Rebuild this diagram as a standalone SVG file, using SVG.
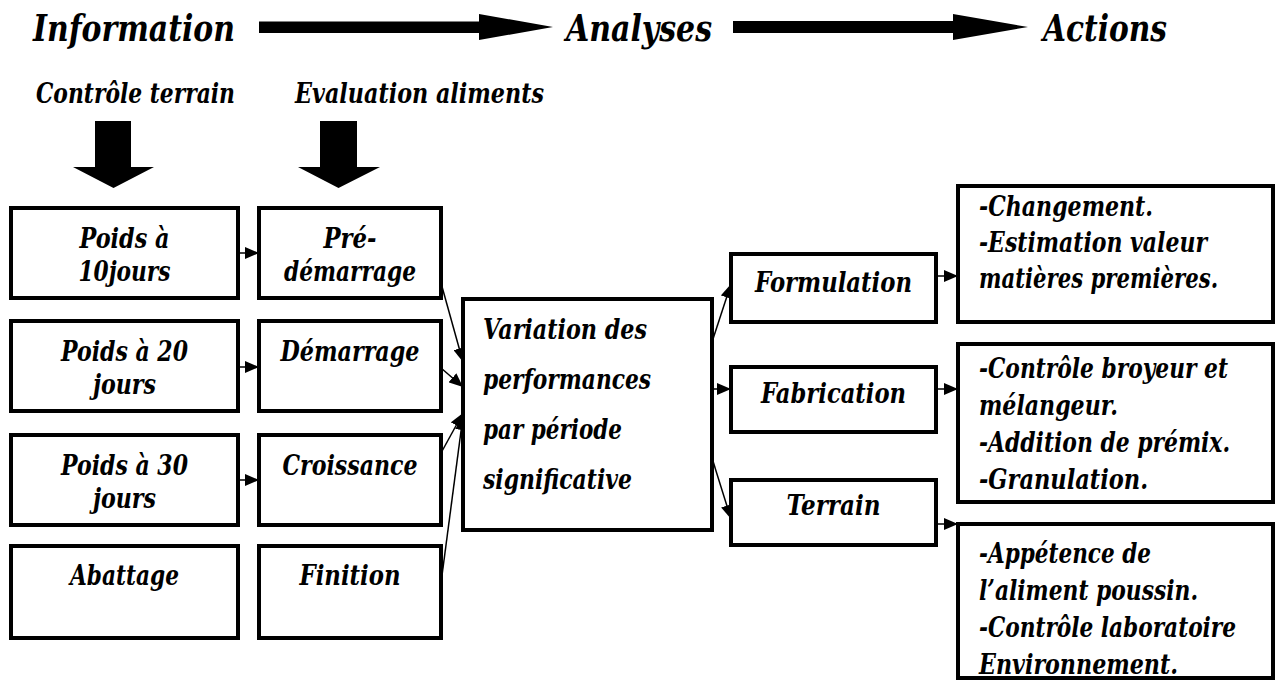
<svg xmlns="http://www.w3.org/2000/svg" width="1277" height="681" viewBox="0 0 1277 681">
<style>
text{font-family:"DejaVu Serif","Liberation Serif",serif;font-weight:bold;font-style:italic;fill:#000}
.t{font-size:37px}
.s{font-size:28px}
.b{font-size:28px}
.c{text-anchor:middle}
.box{fill:#fff;stroke:#000;stroke-width:4}
.con{stroke:#000;stroke-width:1.5;fill:none;marker-end:url(#ah)}
.big{fill:#000}
</style>
<defs>
<marker id="ah" viewBox="0 0 14 12" refX="14" refY="6" markerWidth="14" markerHeight="12" markerUnits="userSpaceOnUse" orient="auto"><path d="M0,0 L14,6 L0,12 z" fill="#000"/></marker>
</defs>
<rect width="1277" height="681" fill="#fff"/>
<g id="header">
<text class="t" x="33" y="41" textLength="202" lengthAdjust="spacingAndGlyphs">Information</text>
<text class="t" x="566" y="41" textLength="146" lengthAdjust="spacingAndGlyphs">Analyses</text>
<text class="t" x="1043" y="41" textLength="124" lengthAdjust="spacingAndGlyphs">Actions</text>
<polygon class="big" points="259,21.5 479,21.5 479,14 553,27 479,40 479,33 259,33"/>
<polygon class="big" points="733,21 953,21 953,14 1028,27 953,40 953,33 733,33"/>
<text class="s" x="36" y="103" textLength="199" lengthAdjust="spacingAndGlyphs">Contrôle terrain</text>
<text class="s" x="295" y="103" textLength="249" lengthAdjust="spacingAndGlyphs">Evaluation aliments</text>
<polygon class="big" points="95,121 131,121 131,167 154,167 113.5,188 73,167 95,167"/>
<polygon class="big" points="320,121 357,121 357,167 380,167 338.5,188 298,167 320,167"/>
</g>
<g id="connectors">
<line class="con" x1="238" y1="253" x2="259" y2="253"/>
<line class="con" x1="238" y1="367" x2="259" y2="367"/>
<line class="con" x1="238" y1="480" x2="259" y2="480"/>
<line class="con" x1="441" y1="283" x2="463" y2="362"/>
<line class="con" x1="441" y1="368" x2="463" y2="387"/>
<line class="con" x1="441" y1="453" x2="463" y2="413"/>
<line class="con" x1="441" y1="583" x2="463" y2="416"/>
<line class="con" x1="712" y1="342" x2="731" y2="284"/>
<line class="con" x1="712" y1="389" x2="731" y2="389"/>
<line class="con" x1="712" y1="458" x2="731" y2="519"/>
<line class="con" x1="936" y1="276" x2="958" y2="276"/>
<line class="con" x1="936" y1="389" x2="958" y2="389"/>
<line class="con" x1="936" y1="524" x2="958" y2="524"/>
</g>
<g id="poids10"><rect class="box" x="11" y="208" width="227" height="90"/><text class="b c" x="124.5" y="248" textLength="90" lengthAdjust="spacingAndGlyphs">Poids à</text><text class="b c" x="124.5" y="281" textLength="92" lengthAdjust="spacingAndGlyphs">10jours</text></g>
<g id="poids20"><rect class="box" x="11" y="321" width="227" height="90"/><text class="b c" x="124.5" y="361" textLength="127" lengthAdjust="spacingAndGlyphs">Poids à 20</text><text class="b c" x="124.5" y="394" textLength="63" lengthAdjust="spacingAndGlyphs">jours</text></g>
<g id="poids30"><rect class="box" x="11" y="435" width="227" height="90"/><text class="b c" x="124.5" y="475" textLength="127" lengthAdjust="spacingAndGlyphs">Poids à 30</text><text class="b c" x="124.5" y="508" textLength="63" lengthAdjust="spacingAndGlyphs">jours</text></g>
<g id="abattage"><rect class="box" x="11" y="546" width="227" height="92"/><text class="b c" x="124.5" y="585" textLength="109" lengthAdjust="spacingAndGlyphs">Abattage</text></g>
<g id="predemarrage"><rect class="box" x="259" y="208" width="182" height="90"/><text class="b c" x="350" y="248" textLength="53" lengthAdjust="spacingAndGlyphs">Pré-</text><text class="b c" x="350" y="281" textLength="132" lengthAdjust="spacingAndGlyphs">démarrage</text></g>
<g id="demarrage"><rect class="box" x="259" y="321" width="182" height="90"/><text class="b c" x="350" y="361" textLength="139" lengthAdjust="spacingAndGlyphs">Démarrage</text></g>
<g id="croissance"><rect class="box" x="259" y="435" width="182" height="90"/><text class="b c" x="350" y="475" textLength="135" lengthAdjust="spacingAndGlyphs">Croissance</text></g>
<g id="finition"><rect class="box" x="259" y="546" width="182" height="92"/><text class="b c" x="350" y="585" textLength="101" lengthAdjust="spacingAndGlyphs">Finition</text></g>
<g id="variation"><rect class="box" x="463" y="299" width="249" height="231"/>
<text class="b" x="483" y="339" textLength="164" lengthAdjust="spacingAndGlyphs">Variation des</text>
<text class="b" x="483" y="389" textLength="168" lengthAdjust="spacingAndGlyphs">performances</text>
<text class="b" x="483" y="439" textLength="139" lengthAdjust="spacingAndGlyphs">par période</text>
<text class="b" x="483" y="489" textLength="149" lengthAdjust="spacingAndGlyphs">significative</text></g>
<g id="formulation"><rect class="box" x="731" y="254" width="205" height="68"/><text class="b c" x="833.5" y="292" textLength="157" lengthAdjust="spacingAndGlyphs">Formulation</text></g>
<g id="fabrication"><rect class="box" x="731" y="367" width="205" height="65"/><text class="b c" x="833.5" y="403" textLength="145" lengthAdjust="spacingAndGlyphs">Fabrication</text></g>
<g id="terrain"><rect class="box" x="731" y="480" width="205" height="65"/><text class="b c" x="833.5" y="515" textLength="94" lengthAdjust="spacingAndGlyphs">Terrain</text></g>
<g id="action1"><rect class="box" x="958" y="186" width="315" height="136"/>
<g transform="translate(979 0) scale(0.75 1)">
<text class="b" x="0" y="216" textLength="232" lengthAdjust="spacingAndGlyphs">-Changement.</text>
<text class="b" x="0" y="252" textLength="304" lengthAdjust="spacingAndGlyphs">-Estimation valeur</text>
<text class="b" x="0" y="288" textLength="318.7" lengthAdjust="spacingAndGlyphs">matières premières.</text></g></g>
<g id="action2"><rect class="box" x="958" y="344" width="315" height="158"/>
<g transform="translate(979 0) scale(0.75 1)">
<text class="b" x="0" y="378" textLength="332" lengthAdjust="spacingAndGlyphs">-Contrôle broyeur et</text>
<text class="b" x="0" y="415" textLength="185.3" lengthAdjust="spacingAndGlyphs">mélangeur.</text>
<text class="b" x="0" y="452" textLength="334.7" lengthAdjust="spacingAndGlyphs">-Addition de prémix.</text>
<text class="b" x="0" y="489" textLength="225.3" lengthAdjust="spacingAndGlyphs">-Granulation.</text></g></g>
<g id="action3"><rect class="box" x="958" y="524" width="315" height="154"/>
<g transform="translate(979 0) scale(0.75 1)">
<text class="b" x="0" y="563" textLength="229.3" lengthAdjust="spacingAndGlyphs">-Appétence de</text>
<text class="b" x="0" y="600" textLength="292" lengthAdjust="spacingAndGlyphs">l’aliment poussin.</text>
<text class="b" x="0" y="637" textLength="342.7" lengthAdjust="spacingAndGlyphs">-Contrôle laboratoire</text>
<text class="b" x="0" y="674" textLength="265.3" lengthAdjust="spacingAndGlyphs">Environnement.</text></g></g>
</svg>
